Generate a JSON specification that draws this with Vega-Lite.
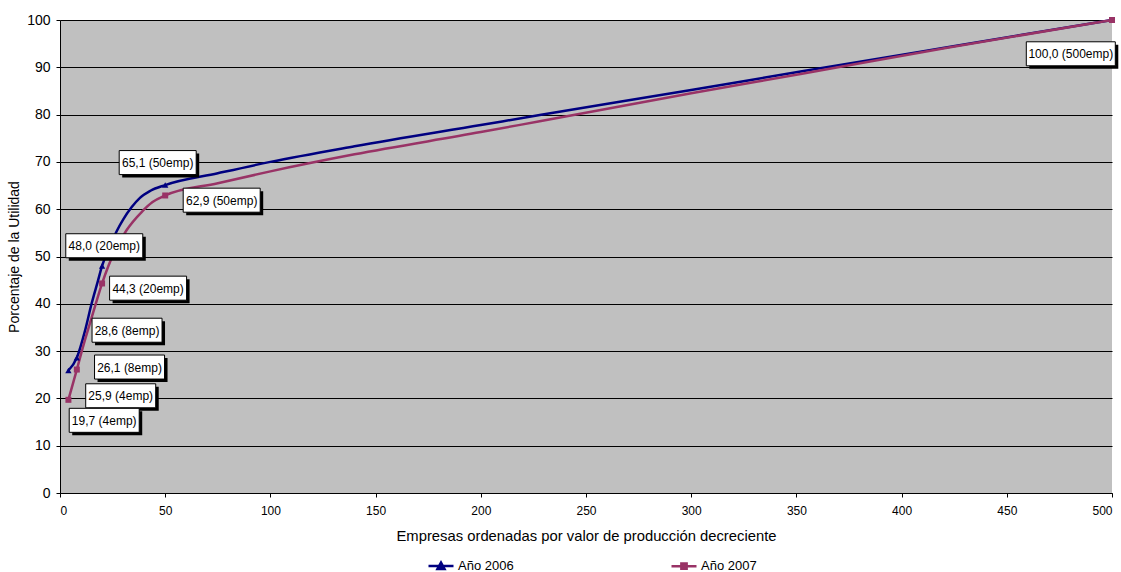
{
  "$schema": "https://vega.github.io/schema/vega-lite/v6.json",
  "width": 1052,
  "height": 473,
  "autosize": "none",
  "padding": {"left": 60, "top": 20, "right": 9, "bottom": 79},
  "background": "white",
  "config": {
    "view": {"fill": "#C0C0C0", "stroke": null},
    "font": "Liberation Sans",
    "axis": {
      "labelFont": "Liberation Sans",
      "labelColor": "black",
      "titleFont": "Liberation Sans",
      "titleFontWeight": "normal",
      "titleColor": "black",
      "domainColor": "black",
      "tickColor": "black",
      "tickSize": 4
    },
    "legend": {"labelFont": "Liberation Sans", "labelFontSize": 13, "labelColor": "black"}
  },
  "datasets": {
    "curve": [
      {"s": "Año 2006", "x": 4, "y": 25.9},
      {"s": "Año 2006", "x": 8, "y": 28.6},
      {"s": "Año 2006", "x": 12, "y": 34.5},
      {"s": "Año 2006", "x": 15, "y": 40},
      {"s": "Año 2006", "x": 18, "y": 44.8},
      {"s": "Año 2006", "x": 20, "y": 48},
      {"s": "Año 2006", "x": 24, "y": 52.3},
      {"s": "Año 2006", "x": 27, "y": 55.4},
      {"s": "Año 2006", "x": 30, "y": 57.8},
      {"s": "Año 2006", "x": 34, "y": 60.4},
      {"s": "Año 2006", "x": 38, "y": 62.4},
      {"s": "Año 2006", "x": 43, "y": 63.9},
      {"s": "Año 2006", "x": 50, "y": 65.1},
      {"s": "Año 2006", "x": 75, "y": 67.6},
      {"s": "Año 2006", "x": 100, "y": 70},
      {"s": "Año 2006", "x": 140, "y": 73.3},
      {"s": "Año 2006", "x": 200, "y": 77.8},
      {"s": "Año 2006", "x": 228, "y": 79.9},
      {"s": "Año 2006", "x": 300, "y": 85.2},
      {"s": "Año 2006", "x": 352, "y": 89.1},
      {"s": "Año 2006", "x": 421, "y": 94.2},
      {"s": "Año 2006", "x": 500, "y": 100},
      {"s": "Año 2007", "x": 4, "y": 19.7},
      {"s": "Año 2007", "x": 8, "y": 26.1},
      {"s": "Año 2007", "x": 11, "y": 31},
      {"s": "Año 2007", "x": 13.5, "y": 34.8},
      {"s": "Año 2007", "x": 16.6, "y": 39.4},
      {"s": "Año 2007", "x": 20, "y": 44.3},
      {"s": "Año 2007", "x": 23, "y": 48},
      {"s": "Año 2007", "x": 27, "y": 52},
      {"s": "Año 2007", "x": 31.7, "y": 55.6},
      {"s": "Año 2007", "x": 38.8, "y": 59.4},
      {"s": "Año 2007", "x": 44, "y": 61.5},
      {"s": "Año 2007", "x": 50, "y": 62.9},
      {"s": "Año 2007", "x": 75, "y": 65.5},
      {"s": "Año 2007", "x": 100, "y": 68},
      {"s": "Año 2007", "x": 140, "y": 71.6},
      {"s": "Año 2007", "x": 200, "y": 76.3},
      {"s": "Año 2007", "x": 228, "y": 78.6},
      {"s": "Año 2007", "x": 300, "y": 84.5},
      {"s": "Año 2007", "x": 352, "y": 88.6},
      {"s": "Año 2007", "x": 421, "y": 94.1},
      {"s": "Año 2007", "x": 500, "y": 100}
    ],
    "pts": [
      {"s": "Año 2006", "x": 4, "y": 25.9, "lab": "25,9 (4emp)"},
      {"s": "Año 2006", "x": 8, "y": 28.6, "lab": "28,6 (8emp)"},
      {"s": "Año 2006", "x": 20, "y": 48.0, "lab": "48,0 (20emp)"},
      {"s": "Año 2006", "x": 50, "y": 65.1, "lab": "65,1 (50emp)"},
      {"s": "Año 2006", "x": 500, "y": 100, "lab": ""},
      {"s": "Año 2007", "x": 4, "y": 19.7, "lab": "19,7 (4emp)"},
      {"s": "Año 2007", "x": 8, "y": 26.1, "lab": "26,1 (8emp)"},
      {"s": "Año 2007", "x": 20, "y": 44.3, "lab": "44,3 (20emp)"},
      {"s": "Año 2007", "x": 50, "y": 62.9, "lab": "62,9 (50emp)"},
      {"s": "Año 2007", "x": 500, "y": 100, "lab": "100,0 (500emp)"}
    ]
  },
  "encoding": {
    "x": {
      "field": "x", "type": "quantitative",
      "scale": {"domain": [0, 500], "nice": false},
      "axis": {
        "title": "Empresas ordenadas por valor de producción decreciente",
        "values": [0, 50, 100, 150, 200, 250, 300, 350, 400, 450, 500],
        "grid": false, "labelFontSize": 12, "labelPadding": 8, "titleFontSize": 14.8, "titlePadding": 12
      }
    },
    "y": {
      "field": "y", "type": "quantitative",
      "scale": {"domain": [0, 100], "nice": false},
      "axis": {
        "title": "Porcentaje de la Utilidad",
        "values": [0, 10, 20, 30, 40, 50, 60, 70, 80, 90, 100],
        "grid": true, "gridColor": "black", "gridWidth": 1, "gridOpacity": 1,
        "labelFontSize": 14, "labelPadding": 6, "titleFontSize": 14, "titlePadding": 5
      }
    }
  },
  "layer": [
    {
      "data": {"name": "curve"},
      "mark": {"type": "line", "interpolate": "monotone", "strokeWidth": 2.5},
      "encoding": {
        "color": {
          "field": "s", "type": "nominal",
          "scale": {"domain": ["Año 2006", "Año 2007"], "range": ["#000080", "#993366"]},
          "legend": {
            "title": null, "orient": "none", "legendX": 367, "legendY": 532,
            "direction": "horizontal", "symbolSize": 625, "columnPadding": 152,
            "labelOffset": 3, "labelFontSize": 13,
            "symbolType": "M-1,0H1",
            "encode": {
              "symbols": {
                "update": {
                  "shape": {"signal": "datum.value === 'Año 2006' ? 'M-1,0H1M-0.28,0.23L0,-0.28L0.28,0.23Z' : 'M-1,0H1M-0.21,-0.21H0.21V0.21H-0.21Z'"},
                  "stroke": {"signal": "datum.value === 'Año 2006' ? '#000080' : '#993366'"},
                  "fill": {"signal": "datum.value === 'Año 2006' ? '#000080' : '#993366'"},
                  "strokeWidth": {"value": 2.5},
                  "opacity": {"value": 1}
                }
              }
            }
          }
        }
      }
    },
    {
      "data": {"name": "pts"},
      "transform": [{"filter": "datum.s === 'Año 2006'"}],
      "mark": {"type": "point", "shape": "triangle-up", "filled": true, "fill": "#000080", "opacity": 1, "size": 40}
    },
    {
      "data": {"name": "pts"},
      "transform": [{"filter": "datum.s === 'Año 2007'"}],
      "mark": {"type": "point", "shape": "square", "filled": true, "fill": "#993366", "opacity": 1, "size": 36}
    },
    {
      "data": {"name": "pts"},
      "transform": [{"filter": "datum.lab === '65,1 (50emp)'"}],
      "layer": [
        {"mark": {"type": "point", "shape": "M-1,-0.312H1V0.312H-1Z", "size": 5929, "filled": true, "fill": "black", "strokeWidth": 0, "opacity": 1, "xOffset": -4.5, "yOffset": -19.5}},
        {"mark": {"type": "point", "shape": "M-1,-0.312H1V0.312H-1Z", "size": 5929, "filled": true, "fill": "white", "stroke": "black", "strokeWidth": 1, "opacity": 1, "xOffset": -7.5, "yOffset": -22.5}},
        {"mark": {"type": "text", "fontSize": 12, "color": "black", "align": "center", "baseline": "middle", "dx": -7.5, "dy": -22}, "encoding": {"text": {"field": "lab"}}}
      ]
    },
    {
      "data": {"name": "pts"},
      "transform": [{"filter": "datum.lab === '62,9 (50emp)'"}],
      "layer": [
        {"mark": {"type": "point", "shape": "M-1,-0.312H1V0.312H-1Z", "size": 5929, "filled": true, "fill": "black", "strokeWidth": 0, "opacity": 1, "xOffset": 59.5, "yOffset": 7.7}},
        {"mark": {"type": "point", "shape": "M-1,-0.312H1V0.312H-1Z", "size": 5929, "filled": true, "fill": "white", "stroke": "black", "strokeWidth": 1, "opacity": 1, "xOffset": 56.5, "yOffset": 4.7}},
        {"mark": {"type": "text", "fontSize": 12, "color": "black", "align": "center", "baseline": "middle", "dx": 56.5, "dy": 5.2}, "encoding": {"text": {"field": "lab"}}}
      ]
    },
    {
      "data": {"name": "pts"},
      "transform": [{"filter": "datum.lab === '48,0 (20emp)'"}],
      "layer": [
        {"mark": {"type": "point", "shape": "M-1,-0.312H1V0.312H-1Z", "size": 5929, "filled": true, "fill": "black", "strokeWidth": 0, "opacity": 1, "xOffset": 5.2, "yOffset": -17.2}},
        {"mark": {"type": "point", "shape": "M-1,-0.312H1V0.312H-1Z", "size": 5929, "filled": true, "fill": "white", "stroke": "black", "strokeWidth": 1, "opacity": 1, "xOffset": 2.2, "yOffset": -20.2}},
        {"mark": {"type": "text", "fontSize": 12, "color": "black", "align": "center", "baseline": "middle", "dx": 2.2, "dy": -19.7}, "encoding": {"text": {"field": "lab"}}}
      ]
    },
    {
      "data": {"name": "pts"},
      "transform": [{"filter": "datum.lab === '44,3 (20emp)'"}],
      "layer": [
        {"mark": {"type": "point", "shape": "M-1,-0.312H1V0.312H-1Z", "size": 5929, "filled": true, "fill": "black", "strokeWidth": 0, "opacity": 1, "xOffset": 49, "yOffset": 7.7}},
        {"mark": {"type": "point", "shape": "M-1,-0.312H1V0.312H-1Z", "size": 5929, "filled": true, "fill": "white", "stroke": "black", "strokeWidth": 1, "opacity": 1, "xOffset": 46, "yOffset": 4.7}},
        {"mark": {"type": "text", "fontSize": 12, "color": "black", "align": "center", "baseline": "middle", "dx": 46, "dy": 5.2}, "encoding": {"text": {"field": "lab"}}}
      ]
    },
    {
      "data": {"name": "pts"},
      "transform": [{"filter": "datum.lab === '28,6 (8emp)'"}],
      "layer": [
        {"mark": {"type": "point", "shape": "M-1,-0.343H1V0.343H-1Z", "size": 4900, "filled": true, "fill": "black", "strokeWidth": 0, "opacity": 1, "xOffset": 53.2, "yOffset": -24.5}},
        {"mark": {"type": "point", "shape": "M-1,-0.343H1V0.343H-1Z", "size": 4900, "filled": true, "fill": "white", "stroke": "black", "strokeWidth": 1, "opacity": 1, "xOffset": 50.2, "yOffset": -27.5}},
        {"mark": {"type": "text", "fontSize": 12, "color": "black", "align": "center", "baseline": "middle", "dx": 50.2, "dy": -27}, "encoding": {"text": {"field": "lab"}}}
      ]
    },
    {
      "data": {"name": "pts"},
      "transform": [{"filter": "datum.lab === '26,1 (8emp)'"}],
      "layer": [
        {"mark": {"type": "point", "shape": "M-1,-0.343H1V0.343H-1Z", "size": 4900, "filled": true, "fill": "black", "strokeWidth": 0, "opacity": 1, "xOffset": 55.7, "yOffset": 0.5}},
        {"mark": {"type": "point", "shape": "M-1,-0.343H1V0.343H-1Z", "size": 4900, "filled": true, "fill": "white", "stroke": "black", "strokeWidth": 1, "opacity": 1, "xOffset": 52.7, "yOffset": -2.5}},
        {"mark": {"type": "text", "fontSize": 12, "color": "black", "align": "center", "baseline": "middle", "dx": 52.7, "dy": -2}, "encoding": {"text": {"field": "lab"}}}
      ]
    },
    {
      "data": {"name": "pts"},
      "transform": [{"filter": "datum.lab === '25,9 (4emp)'"}],
      "layer": [
        {"mark": {"type": "point", "shape": "M-1,-0.343H1V0.343H-1Z", "size": 4900, "filled": true, "fill": "black", "strokeWidth": 0, "opacity": 1, "xOffset": 55.3, "yOffset": 28.3}},
        {"mark": {"type": "point", "shape": "M-1,-0.343H1V0.343H-1Z", "size": 4900, "filled": true, "fill": "white", "stroke": "black", "strokeWidth": 1, "opacity": 1, "xOffset": 52.3, "yOffset": 25.3}},
        {"mark": {"type": "text", "fontSize": 12, "color": "black", "align": "center", "baseline": "middle", "dx": 52.3, "dy": 25.8}, "encoding": {"text": {"field": "lab"}}}
      ]
    },
    {
      "data": {"name": "pts"},
      "transform": [{"filter": "datum.lab === '19,7 (4emp)'"}],
      "layer": [
        {"mark": {"type": "point", "shape": "M-1,-0.343H1V0.343H-1Z", "size": 4900, "filled": true, "fill": "black", "strokeWidth": 0, "opacity": 1, "xOffset": 38.8, "yOffset": 23.5}},
        {"mark": {"type": "point", "shape": "M-1,-0.343H1V0.343H-1Z", "size": 4900, "filled": true, "fill": "white", "stroke": "black", "strokeWidth": 1, "opacity": 1, "xOffset": 35.8, "yOffset": 20.5}},
        {"mark": {"type": "text", "fontSize": 12, "color": "black", "align": "center", "baseline": "middle", "dx": 35.8, "dy": 21}, "encoding": {"text": {"field": "lab"}}}
      ]
    },
    {
      "data": {"name": "pts"},
      "transform": [{"filter": "datum.lab === '100,0 (500emp)'"}],
      "layer": [
        {"mark": {"type": "point", "shape": "M-1,-0.27H1V0.27H-1Z", "size": 7921, "filled": true, "fill": "black", "strokeWidth": 0, "opacity": 1, "xOffset": -38.2, "yOffset": 36.8}},
        {"mark": {"type": "point", "shape": "M-1,-0.27H1V0.27H-1Z", "size": 7921, "filled": true, "fill": "white", "stroke": "black", "strokeWidth": 1, "opacity": 1, "xOffset": -41.2, "yOffset": 33.8}},
        {"mark": {"type": "text", "fontSize": 12, "color": "black", "align": "center", "baseline": "middle", "dx": -41.2, "dy": 34.3}, "encoding": {"text": {"field": "lab"}}}
      ]
    }
  ]
}
